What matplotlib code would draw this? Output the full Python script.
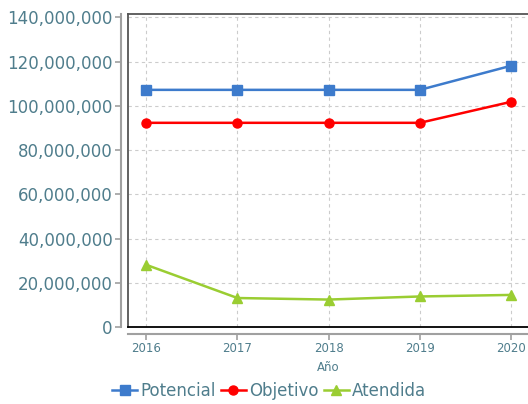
import matplotlib
matplotlib.use("Agg")
import matplotlib.pyplot as plt
from matplotlib.ticker import FuncFormatter

anios = [2016, 2017, 2018, 2019, 2020]
potencial = [107200000, 107200000, 107200000, 107200000, 118100000]
objetivo = [92300000, 92300000, 92300000, 92300000, 101800000]
atendida = [28100000, 13100000, 12400000, 13800000, 14500000]
y_ticks = [0, 20000000, 40000000, 60000000, 80000000, 100000000, 120000000, 140000000]

texto = '#4f7d8c'
eje = '#a0a0a0'

fig = plt.figure(figsize=(5.28, 4.04), dpi=100)
ax = fig.add_axes([0.2424, 0.1906, 0.7585, 0.7748])

ax.plot(anios, potencial, color='#3d7bcc', lw=1.8, marker='s', ms=6.5, label='Potencial')
ax.plot(anios, objetivo, color='#ff0000', lw=1.8, marker='o', ms=6.5, label='Objetivo')
ax.plot(anios, atendida, color='#9acd32', lw=1.8, marker='^', ms=7.5, label='Atendida')

ax.set_xlim(2015.8, 2020.19)
ax.set_ylim(0, 141500000)
ax.set_xticks(anios)
ax.set_yticks(y_ticks)
ax.yaxis.set_major_formatter(FuncFormatter(lambda v, p: f'{int(v):,}'))

ax.grid(True, linestyle=(0, (3, 3)), color='#cccccc', lw=0.8)
ax.set_axisbelow(True)

# ejes desplazados en gris
for s in ['left', 'bottom']:
    ax.spines[s].set_position(('outward', 5))
    ax.spines[s].set_color(eje)
    ax.spines[s].set_linewidth(1.5)
ax.spines['right'].set_visible(False)
ax.spines['top'].set_color('#555555')
ax.spines['top'].set_linewidth(1.3)

# marco interior
ax.plot([0, 0], [0, 1], transform=ax.transAxes, color='#555555', lw=1.3, clip_on=False)
ax.plot([0, 1], [0, 0], transform=ax.transAxes, color='black', lw=1.3, clip_on=False)

ax.tick_params(axis='y', colors=eje, labelcolor=texto, labelsize=12, length=4, width=1.2, pad=2)
ax.tick_params(axis='x', colors=eje, labelcolor=texto, labelsize=8.5, length=4, width=1.2, pad=2)

ax.set_xlabel('Año', color=texto, fontsize=8.5, labelpad=4)

fig.legend(loc='lower center', bbox_to_anchor=(0.51, -0.028), ncol=3, frameon=False,
           fontsize=12, handlelength=1.5, handletextpad=0.2, columnspacing=0.3,
           labelcolor=texto)

fig.savefig('out.png', dpi=100)
